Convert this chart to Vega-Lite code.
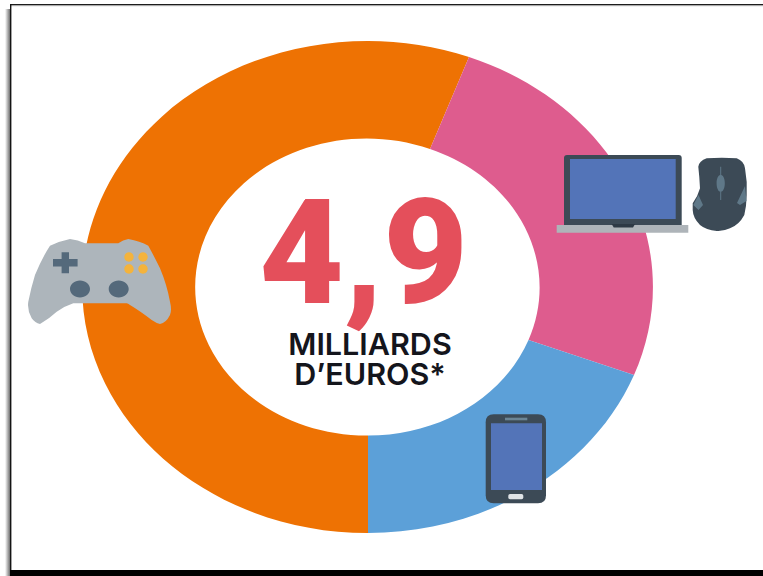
{
  "$schema": "https://vega.github.io/schema/vega-lite/v6.json",
  "width": 763,
  "height": 576,
  "autosize": {"type": "fit", "contains": "padding"},
  "padding": 0,
  "background": "white",
  "config": {"view": {"stroke": null}},
  "resolve": {"scale": {"color": "independent", "shape": "independent"}},
  "datasets": {
    "frame": [
      {"piece": "top", "e0": -358, "e1": 395, "n0": 283, "n1": 281.6},
      {"piece": "topShade", "e0": -358, "e1": 395, "n0": 281.6, "n1": 280.8},
      {"piece": "left", "e0": -358, "e1": -356.6, "n0": 283, "n1": -283},
      {"piece": "bottom", "e0": -358, "e1": 395, "n0": -283, "n1": -289}
    ],
    "shade": [
      {"e0": -363, "e1": -358, "n0": 278, "n1": -289}
    ],
    "shapes": [
      {"part": "Jeux vidéo", "share": 56, "east": 0, "north": 0},
      {"part": "Ordinateurs", "share": 25, "east": 0, "north": 0},
      {"part": "Mobiles", "share": 19, "east": 0, "north": 0},
      {"part": "pad", "east": -268, "north": 5},
      {"part": "padCross", "east": -268, "north": 5},
      {"part": "padSticks", "east": -268, "north": 5},
      {"part": "padButtons", "east": -268, "north": 5},
      {"part": "laptopBody", "east": 254, "north": 93},
      {"part": "laptopScreen", "east": 254, "north": 93},
      {"part": "laptopBase", "east": 254, "north": 93},
      {"part": "laptopNotch", "east": 254, "north": 93},
      {"part": "mouseBody", "east": 352, "north": 93},
      {"part": "mouseGrip", "east": 352, "north": 93},
      {"part": "phoneBody", "east": 148, "north": -172},
      {"part": "phoneScreen", "east": 148, "north": -172},
      {"part": "phoneSpeaker", "east": 148, "north": -172},
      {"part": "phoneButton", "east": 148, "north": -172}
    ]
  },
  "layer": [
    {
      "data": {"name": "shade"},
      "mark": {
        "type": "rect",
        "color": {
          "gradient": "linear", "x1": 0, "x2": 1, "y1": 0, "y2": 0,
          "stops": [
            {"offset": 0, "color": "#ffffff"},
            {"offset": 1, "color": "#6e6e6e"}
          ]
        }
      },
      "encoding": {
        "x": {"field": "e0", "type": "quantitative", "axis": null, "scale": {"domain": [-368, 395], "nice": false, "zero": false}},
        "x2": {"field": "e1"},
        "y": {"field": "n0", "type": "quantitative", "axis": null, "scale": {"domain": [-289, 287], "nice": false, "zero": false}},
        "y2": {"field": "n1"}
      }
    },
    {
      "data": {"name": "frame"},
      "mark": {"type": "rect"},
      "encoding": {
        "x": {"field": "e0", "type": "quantitative", "axis": null, "scale": {"domain": [-368, 395], "nice": false, "zero": false}},
        "x2": {"field": "e1"},
        "y": {"field": "n0", "type": "quantitative", "axis": null, "scale": {"domain": [-289, 287], "nice": false, "zero": false}},
        "y2": {"field": "n1"},
        "color": {
          "field": "piece", "type": "nominal", "legend": null,
          "scale": {"domain": ["top", "topShade", "left", "bottom"], "range": ["#1c1c1c", "#c8c8c8", "#141414", "#000000"]}
        }
      }
    },
    {
      "data": {"name": "shapes"},
      "mark": {"type": "point", "filled": true, "opacity": 1, "strokeWidth": 0},
      "encoding": {
        "x": {"field": "east", "type": "quantitative", "axis": null, "scale": {"domain": [-368, 395], "nice": false, "zero": false}},
        "y": {"field": "north", "type": "quantitative", "axis": null, "scale": {"domain": [-289, 287], "nice": false, "zero": false}},
        "size": {"value": 4},
        "color": {
          "field": "part", "type": "nominal", "legend": null,
          "scale": {
            "domain": ["Jeux vidéo", "Ordinateurs", "Mobiles", "pad", "padCross", "padSticks", "padButtons", "laptopBody", "laptopScreen", "laptopBase", "laptopNotch", "mouseBody", "mouseGrip", "phoneBody", "phoneScreen", "phoneSpeaker", "phoneButton"],
            "range": ["#ee7203", "#de5c8e", "#5ca0d8", "#adb5bb", "#54697b", "#54697b", "#f4b33c", "#3c4a56", "#5374b8", "#aeb4b9", "#2e3a45", "#3c4a56", "#5f7888", "#3c4a56", "#5374b8", "#6c8595", "#dfe3e6"]
          }
        },
        "shape": {
          "field": "part", "type": "nominal", "legend": null,
          "scale": {
            "domain": ["Jeux vidéo", "Ordinateurs", "Mobiles", "pad", "padCross", "padSticks", "padButtons", "laptopBody", "laptopScreen", "laptopBase", "laptopNotch", "mouseBody", "mouseGrip", "phoneBody", "phoneScreen", "phoneSpeaker", "phoneButton"],
            "range": [
              "M0,246 A285.5,246 0 1 1 101,-230 L62,-138 A171.5,148.5 0 1 0 0,148.5 Z",
              "M101,-230 A285.5,246 0 0 1 266,88 L160.5,53 A171.5,148.5 0 0 0 62,-138 Z",
              "M266,88 A285.5,246 0 0 1 0,246 L0,148.5 A171.5,148.5 0 0 0 160.5,53 Z",
              "M-50,-36.3 Q-40,-41 -30,-43 Q-22,-42 -15,-38.7 L18.3,-38.7 Q23,-42 28.3,-43 Q40,-41 48.3,-36.3 Q55,-24 60,-13.7 Q67,3 70,19.7 Q72,28 70,33 Q66,41 60,42 Q56,41 51.7,38 Q40,29 30,23 Q28,21.3 26.7,21.3 L-26.7,21.3 Q-35,24 -43.3,29.7 Q-50,36 -60,42 Q-65,41 -68.3,36.3 Q-73,28 -71.7,19.7 Q-69,6 -65,-7 Q-58,-24 -50,-36.3 Z",
              "M-38.4,-29.8 L-31,-29.8 L-31,-23 L-22.4,-23 L-22.4,-15.6 L-31,-15.6 L-31,-8.8 L-38.4,-8.8 L-38.4,-15.6 L-47,-15.6 L-47,-23 L-38.4,-23 Z",
              "M-30,7 A10,8.5 0 1 1 -10,7 A10,8.5 0 1 1 -30,7 Z M8.7,7 A10,8.5 0 1 1 28.7,7 A10,8.5 0 1 1 8.7,7 Z",
              "M24.3,-25 A4.7,4.7 0 1 1 33.7,-25 A4.7,4.7 0 1 1 24.3,-25 Z M38.3,-25 A4.7,4.7 0 1 1 47.7,-25 A4.7,4.7 0 1 1 38.3,-25 Z M24.3,-13 A4.7,4.7 0 1 1 33.7,-13 A4.7,4.7 0 1 1 24.3,-13 Z M38.3,-13 A4.7,4.7 0 1 1 47.7,-13 A4.7,4.7 0 1 1 38.3,-13 Z",
              "M-55,-39 L56.7,-39 Q59.7,-39 59.7,-36 L59.7,31 L-58,31 L-58,-36 Q-58,-39 -55,-39 Z",
              "M-52,-35 L53.7,-35 L53.7,25 L-52,25 Z",
              "M-65.3,31 L66.3,31 L66.3,38.7 L-65.3,38.7 Z",
              "M-10.3,30 L13,30 L11,33.5 L-8.3,33.5 Z",
              "M-21.7,-27.3 Q-21,-33 -13.3,-35.7 Q2,-37 16.7,-35.7 Q24,-33 25,-25.7 Q27.5,-12 26.7,1 Q26.5,12 24.3,21 Q19,31 10,34.3 Q3,37.5 -3.3,37 Q-14,36 -20,31 Q-27,24 -27.3,16 L-27.3,9.3 Q-22,2 -20,-5.7 Q-20.5,-17 -21.7,-27.3 Z",
              "M0.2,-27.3 L1.2,-27.3 L1.2,-19 A3.6,8.3 0 0 1 1.2,-2.4 L1.2,6 L0.2,6 L0.2,-2.4 A3.6,8.3 0 0 1 0.2,-19 Z M-26.7,11 L-21.5,1 L-17,11 L-21.5,16 Z M17,9 L25,-8 L26.5,7 L20,11 Z",
              "M-22.3,-44.7 L22,-44.7 Q30,-44.7 30,-36.7 L30,36.3 Q30,44.3 22,44.3 L-22.3,44.3 Q-30.3,44.3 -30.3,36.3 L-30.3,-36.7 Q-30.3,-44.7 -22.3,-44.7 Z",
              "M-25,-35.7 L26,-35.7 L26,31 L-25,31 Z",
              "M-11,-41.3 L11.3,-41.3 L11.3,-38.7 L-11,-38.7 Z",
              "M-6,35 L5.6,35 Q7.3,35 7.3,36.7 L7.3,38.6 Q7.3,40.3 5.6,40.3 L-6,40.3 Q-7.7,40.3 -7.7,38.6 L-7.7,36.7 Q-7.7,35 -6,35 Z"
            ]
          }
        }
      }
    },
    {
      "data": {"values": [{"label": "4,9", "east": -4.5, "north": -16}]},
      "mark": {"type": "text", "font": "Roboto", "fontWeight": 900, "fontSize": 146, "color": "#e44f5b", "align": "center", "baseline": "alphabetic"},
      "encoding": {
        "x": {"field": "east", "type": "quantitative", "axis": null, "scale": {"domain": [-368, 395], "nice": false, "zero": false}},
        "y": {"field": "north", "type": "quantitative", "axis": null, "scale": {"domain": [-289, 287], "nice": false, "zero": false}},
        "text": {"field": "label"}
      }
    },
    {
      "data": {"values": [
        {"label": "MILLIARDS", "east": 2, "north": -68},
        {"label": "D’EUROS*", "east": 2, "north": -98}
      ]},
      "mark": {"type": "text", "font": "Inter", "fontWeight": 600, "fontSize": 30.5, "color": "#14151c", "align": "center", "baseline": "alphabetic"},
      "encoding": {
        "x": {"field": "east", "type": "quantitative", "axis": null, "scale": {"domain": [-368, 395], "nice": false, "zero": false}},
        "y": {"field": "north", "type": "quantitative", "axis": null, "scale": {"domain": [-289, 287], "nice": false, "zero": false}},
        "text": {"field": "label"}
      }
    }
  ]
}
